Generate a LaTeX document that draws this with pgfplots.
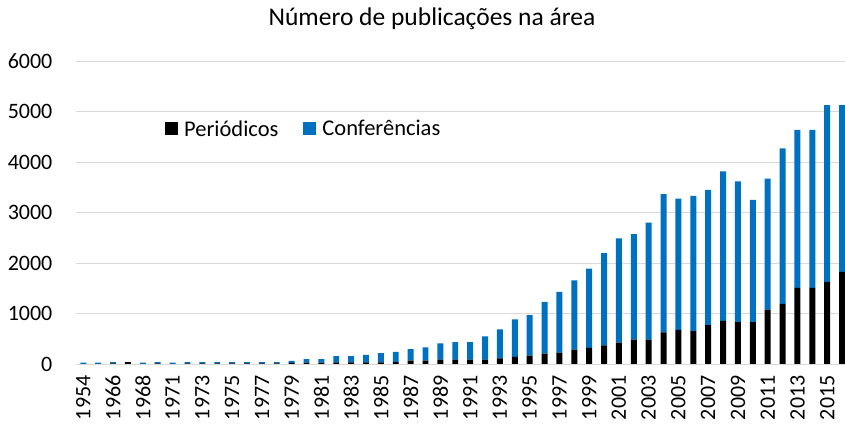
\documentclass[border=0pt]{standalone}
\usepackage{pgfplots}
\pgfplotsset{compat=1.18}
\usepackage{pgfplotstable}
\usepackage{fontspec}
\setmainfont{Carlito}
\definecolor{confblue}{HTML}{0070C0}
\definecolor{gridgray}{HTML}{D9D9D9}

% idx = position of the year on the axis, per = Periódicos, conf = Conferências
\pgfplotstableread{
idx per conf
0 0 25
1 0 25
2 10 25
3 35 0
4 0 25
5 10 25
6 0 25
7 10 25
8 10 25
9 10 25
10 10 25
11 10 25
12 10 25
13 10 25
14 20 40
15 25 70
16 25 70
17 33 122
18 33 122
19 33 149
20 33 182
21 35 207
22 67 228
23 67 263
24 88 320
25 88 347
26 88 344
27 86 462
28 112 574
29 139 745
30 165 805
31 205 1023
32 224 1202
33 284 1373
34 317 1571
35 370 1828
36 422 2066
37 481 2089
38 481 2319
39 625 2737
40 678 2598
41 651 2678
42 770 2677
43 855 2961
44 829 2789
45 829 2421
46 1079 2592
47 1191 3079
48 1507 3131
49 1507 3131
50 1625 3500
51 1822 3303
}\datatable

\newcommand\ticksize{\fontsize{22bp}{26bp}\selectfont}

\begin{document}
\begin{tikzpicture}
\useasboundingbox (0,0) rectangle (845bp,425bp);
\begin{axis}[
    at={(75.9bp,61bp)}, anchor=south west,
    scale only axis, width=769bp, height=303bp,
    ybar stacked, bar width=0.4,
    xmin=-0.5, xmax=51.19, ymin=0, ymax=6000,
    axis x line*=bottom, axis y line*=left,
    x axis line style={gridgray, line width=1bp, -},
    y axis line style={draw=none},
    major tick length=0pt,
    ymajorgrids, grid style={gridgray, line width=1bp},
    ytick={0,1000,...,6000},
    scaled y ticks=false,
    /pgf/number format/1000 sep={},
    /pgf/number format/assume math mode=true,
    yticklabel style={font=\ticksize, anchor=east, xshift=-20bp},
    xtick={0,2,...,50},
    xticklabels={1954,1966,1968,1971,1973,1975,1977,1979,1981,1983,1985,1987,1989,1991,1993,1995,1997,1999,2001,2003,2005,2007,2009,2011,2013,2015},
    xticklabel style={font=\ticksize, rotate=90, anchor=east, xshift=-8bp},
    title={Número de publicações na área},
    title style={font=\fontsize{25.5bp}{30bp}\selectfont, at={(0.463,1)}, anchor=base, yshift=30bp},
    legend columns=2,
    legend style={at={(0.112,0.7756)}, anchor=west, draw=none, fill=none,
        font=\fontsize{22.5bp}{27bp}\selectfont,
        nodes={inner sep=0pt},
        /tikz/every odd column/.append style={column sep=6bp},
        /tikz/every even column/.append style={column sep=25bp}},
    legend image code/.code={\fill[#1] (0bp,-6.5bp) rectangle (13bp,6.5bp);},
]
\addplot[fill=black, draw=none] table[x=idx, y=per] {\datatable};
\addplot[fill=confblue, draw=none] table[x=idx, y=conf] {\datatable};
\legend{Periódicos, Conferências}
\end{axis}
\end{tikzpicture}
\end{document}
